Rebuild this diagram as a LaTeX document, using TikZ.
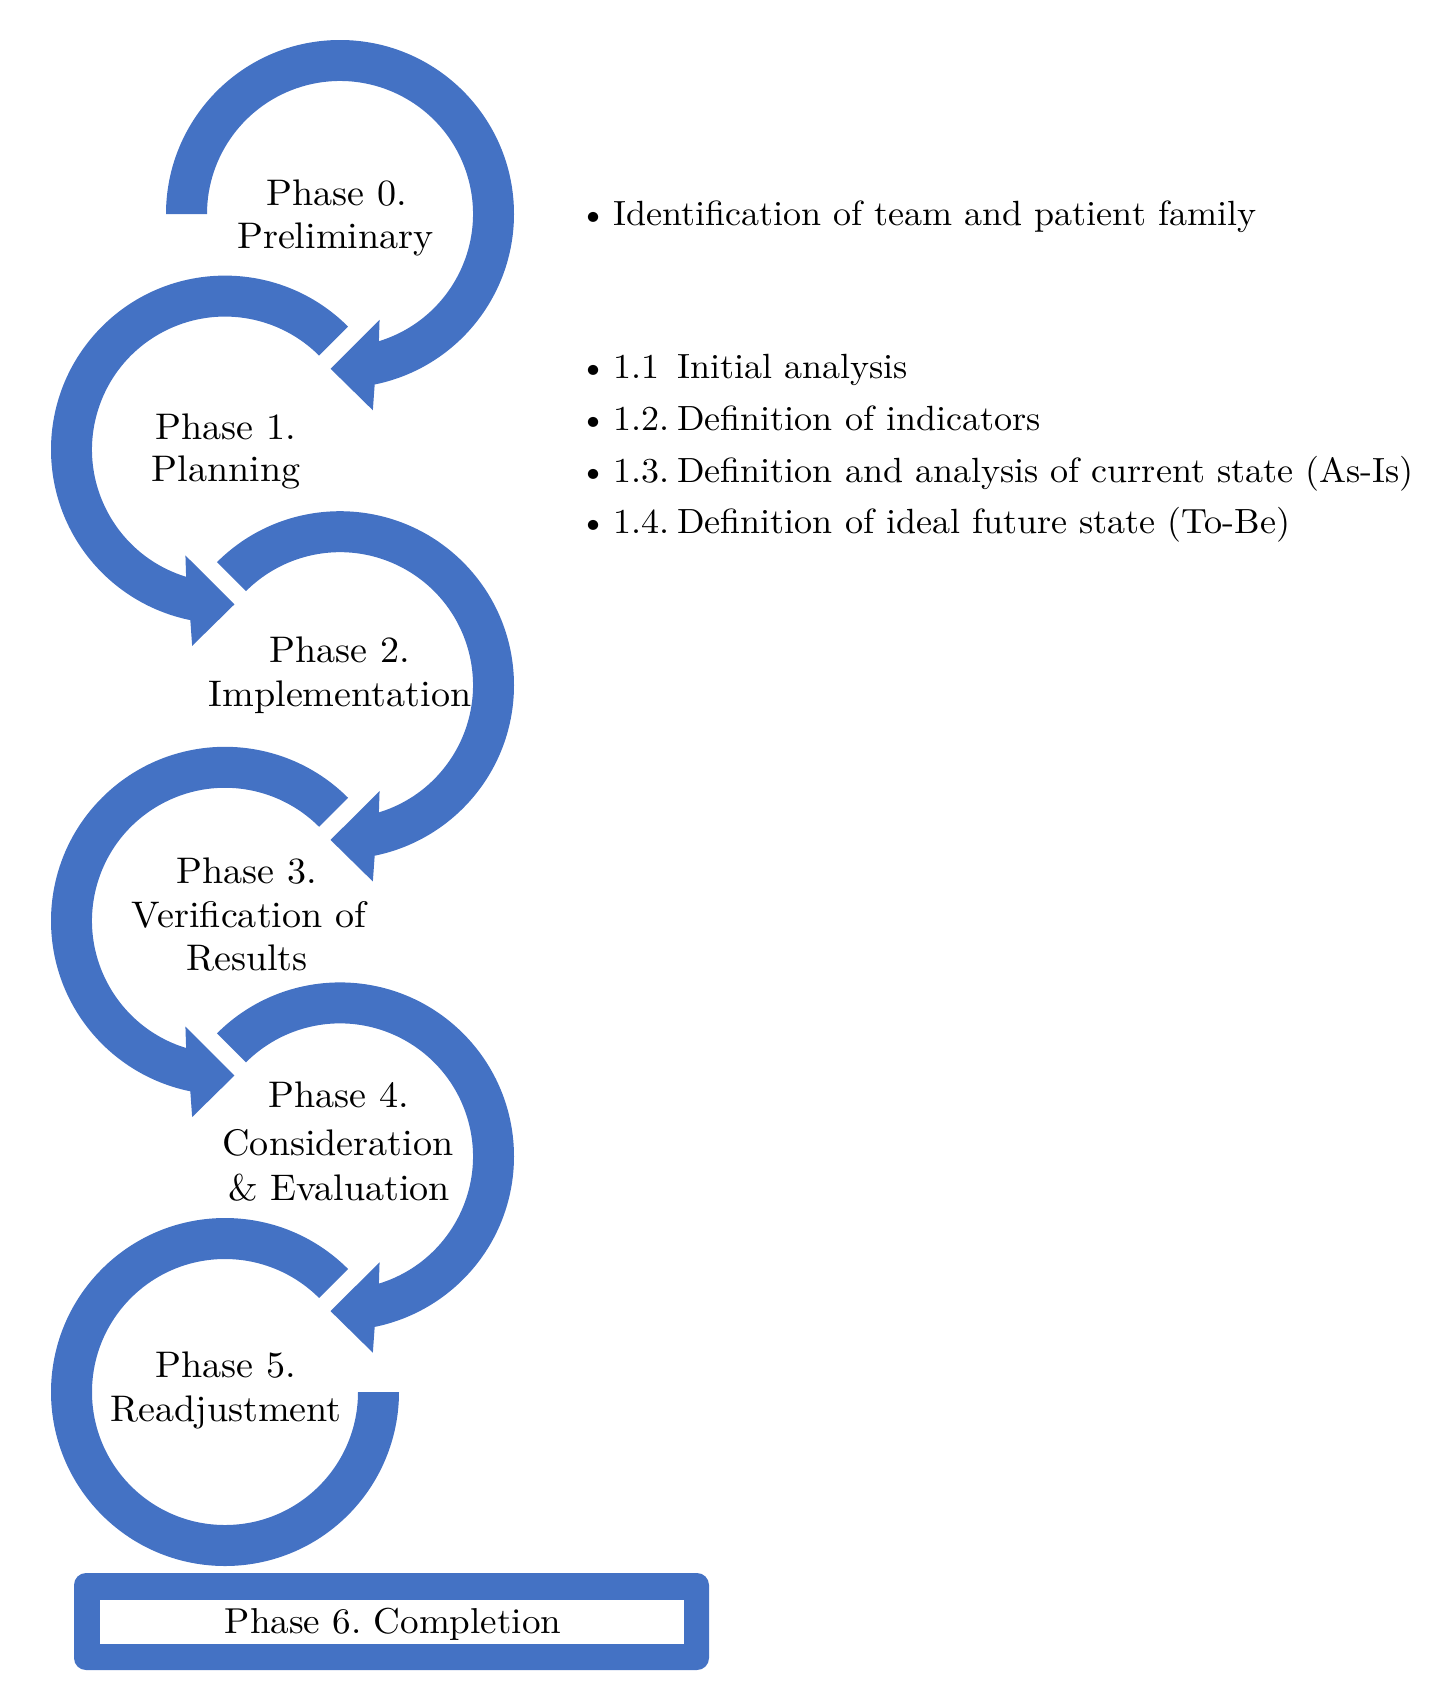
\documentclass[tikz,border=0pt]{standalone}
\usepackage{fontspec}
\setmainfont{lmroman10-regular.otf}[FakeStretch=1.03]
\usepackage{tikz}
\definecolor{ringblue}{HTML}{4472C4}
\newcommand\ringCW[3]{% centre x, centre y (downwards), start angle
  \fill[ring,shift={(#1,-#2)}] (#3:174) arc[start angle=#3,end angle=-78.5,radius=174]
    -- (-80.5:199) -- (-93.5:155) -- (-69.5:113) -- (-73:133)
    arc[start angle=-73,end angle=#3,radius=133] -- cycle;}
\newcommand\ringCCW[3]{%
  \fill[ring,shift={(#1,-#2)}] (#3:174) arc[start angle=#3,end angle=258.5,radius=174]
    -- (260.5:199) -- (273.5:155) -- (249.5:113) -- (253:133)
    arc[start angle=253,end angle=#3,radius=133] -- cycle;}
\frenchspacing
\begin{document}
\begin{tikzpicture}[x=1pt,y=1pt,
  ring/.style={fill=ringblue},
  lbl/.style={anchor=base, inner sep=0pt, font=\fontsize{37}{44}\selectfont},
  itm/.style={anchor=base west, inner sep=0pt, font=\fontsize{35}{42}\selectfont}]
\useasboundingbox (0,0) rectangle (1451,-1700);
% rings
\ringCW{340}{214}{180}
\ringCCW{225}{449.6}{45}
\ringCW{340}{685.2}{135}
\ringCCW{225}{920.8}{45}
\ringCW{340}{1156.4}{135}
\fill[ring,shift={(225,-1392)}] (45:174) arc[start angle=45,end angle=360,radius=174]
  -- (0:133) arc[start angle=360,end angle=45,radius=133] -- cycle;
% labels
\node[lbl] (p0a) at (337,-205) {Phase 0.};
\node[lbl] (p0b) at (335.5,-248) {Preliminary};
\node[lbl] (p1a) at (226,-439) {Phase 1.};
\node[lbl] (p1b) at (226,-481) {Planning};
\node[lbl] (p2a) at (340,-662) {Phase 2.};
\node[lbl] (p2b) at (340,-706) {Implementation};
\node[lbl] (p3a) at (247,-883) {Phase 3.};
\node[lbl] (p3b) at (249,-927) {Verification of};
\node[lbl] (p3c) at (247,-970) {Results};
\node[lbl] (p4a) at (339,-1107) {Phase 4.};
\node[lbl] (p4b) at (338,-1155) {Consideration};
\node[lbl] (p4c) at (339,-1200) {\&~Evaluation};
\node[lbl] (p5a) at (226,-1377) {Phase 5.};
\node[lbl] (p5b) at (226,-1421) {Readjustment};
% phase 6 box
\fill[ring,rounded corners=12] (74,-1573) rectangle (709,-1670);
\fill[white] (100,-1600) rectangle (684,-1644);
\node[lbl,font=\fontsize{36}{44}\selectfont] (p6) at (393,-1633) {Phase 6. Completion};
% bullet lists
\node[itm] (i0) at (579,-225) {\textbullet\kern6pt Identification of team and patient family};
\node[itm] (i1) at (579,-378) {\textbullet\kern6pt\makebox[64pt][l]{1.1}Initial analysis};
\node[itm] (i2) at (579,-430) {\textbullet\kern6pt\makebox[64pt][l]{1.2.}Definition of indicators};
\node[itm] (i3) at (579,-482) {\textbullet\kern6pt\makebox[64pt][l]{1.3.}Definition and analysis of current state (As-Is)};
\node[itm] (i4) at (579,-533) {\textbullet\kern6pt\makebox[64pt][l]{1.4.}Definition of ideal future state (To-Be)};
\end{tikzpicture}
\end{document}
